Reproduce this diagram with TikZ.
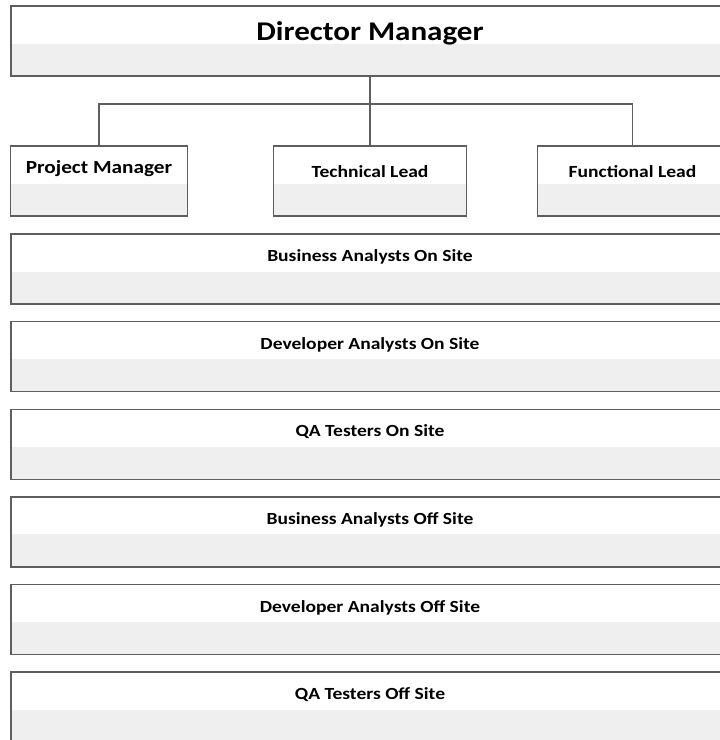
\documentclass[tikz,border=0pt]{standalone}
\usepackage{fontspec}
\setmainfont{Carlito}[FakeStretch=1.15]
\usepackage{tikz}
\usetikzlibrary{positioning}

\definecolor{edgegrey}{HTML}{5E5E5E}
\definecolor{panelgrey}{HTML}{EFEFEF}

\begin{document}
\begin{tikzpicture}[x=1pt, y=-1pt,
        node distance=17.6pt,
        panel/.style = {draw=edgegrey, line width=1.4pt, fill=white, inner sep=0pt, outer sep=0pt, align=center,
            path picture={\fill[panelgrey] ([yshift=-2.5pt]path picture bounding box.west) rectangle (path picture bounding box.south east);}},
        head box/.style = {panel, minimum width=718pt, minimum height=70pt, text height=18pt, text depth=19pt, font=\fontsize{27}{32}\selectfont\bfseries},
        lead box/.style = {panel, minimum height=70pt, text height=12pt, text depth=20pt, font=\fontsize{17}{20}\selectfont\bfseries},
        row box/.style = {panel, minimum width=718pt, minimum height=70pt, text height=12pt, text depth=26.5pt, font=\fontsize{17}{20}\selectfont\bfseries},
        link/.style = {draw=edgegrey, line width=1.4pt}
    ]

    \useasboundingbox (0,0) rectangle (720,740);
    \clip (0,0) rectangle (720,740);

    % Nodes
    \node (director) [head box] at (370,41) {Director Manager};
    \node (techlead) [lead box, minimum width=193pt, below=70pt of director] {Technical Lead};
    \node (projmgr) [lead box, minimum width=177pt, text depth=27.5pt, font=\fontsize{18.5}{22}\selectfont\bfseries, left=86pt of techlead] {Project Manager};
    \node (funclead) [lead box, minimum width=190pt, right=71pt of techlead] {Functional Lead};

    \node (baon) [row box, below=18pt of techlead.south -| director] {Business Analysts On Site};
    \node (daon) [row box, below=of baon] {Developer Analysts On Site};
    \node (qaon) [row box, below=of daon] {QA Testers On Site};
    \node (baoff) [row box, below=of qaon] {Business Analysts Off Site};
    \node (daoff) [row box, below=of baoff] {Developer Analysts Off Site};
    \node (qaoff) [row box, below=of daoff] {QA Testers Off Site};

    % Lines
    \draw[link] (director.south) -- (techlead.north);
    \draw[link] (director.south) -- ++(0,28) coordinate (fork);
    \draw[link] (fork) -| (projmgr.north);
    \draw[link] (fork) -| (funclead.north);

\end{tikzpicture}
\end{document}
